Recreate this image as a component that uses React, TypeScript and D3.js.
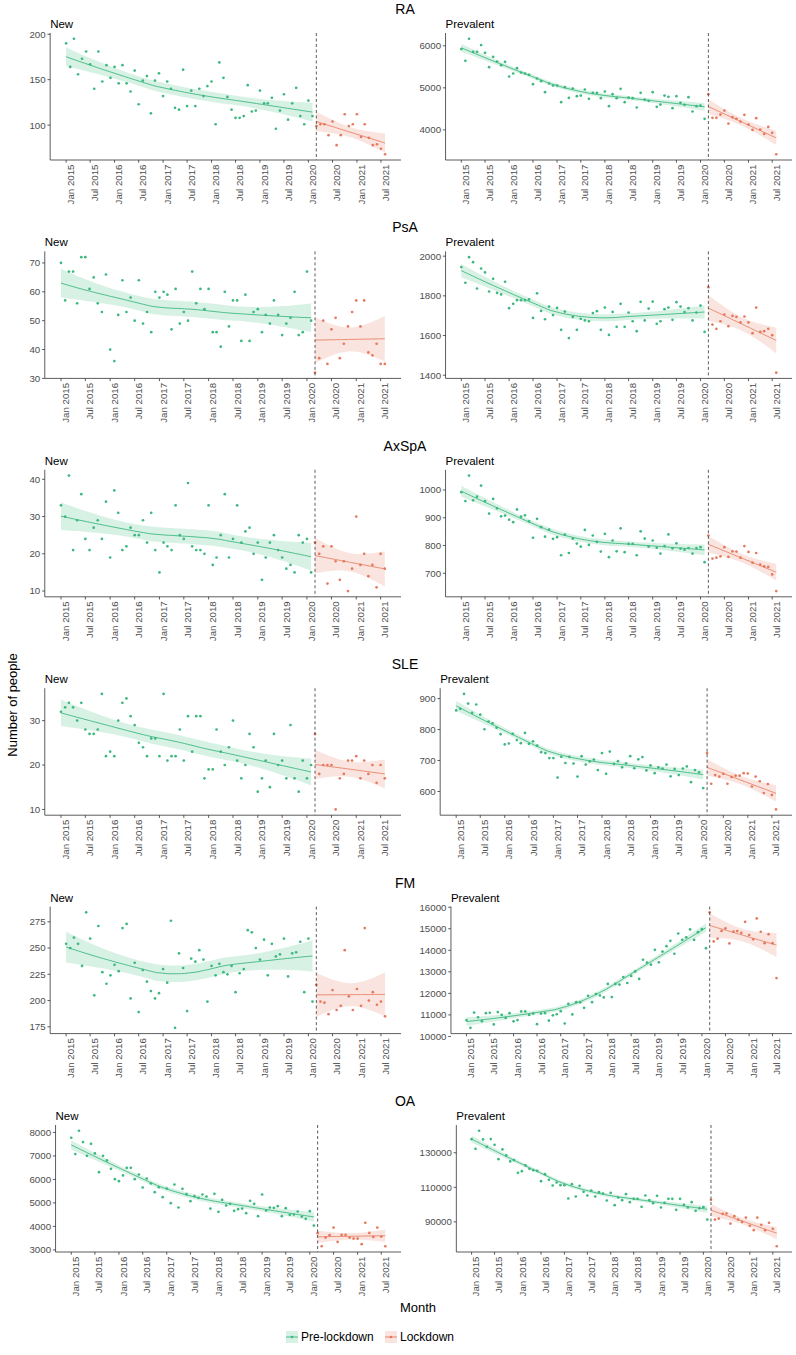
import React from 'react';
import * as d3 from 'd3';

const W = 796;
const H = 1355;
const GREEN = '#3DB97F';
const ORANGE = '#E67A5E';
const FONT = '"Liberation Sans", Arial, Helvetica, sans-serif';

// months: Jan 2015 .. Aug 2021, pre-lockdown up to Feb 2020
const MONTHS = d3.timeMonth.range(new Date(2015, 0, 1), new Date(2021, 8, 1));
const PRE_MONTHS = MONTHS.slice(0, 62);
const LOCK_MONTHS = MONTHS.slice(62);
const LOCKDOWN_START = LOCK_MONTHS[0];
const X_TICKS = d3.timeMonth.every(6)!.range(new Date(2015, 0, 1), new Date(2021, 7, 1));

const DISEASES = ['RA', 'PsA', 'AxSpA', 'SLE', 'FM', 'OA'];

const RA_NEW_PRE = [190,164,195,156,173,181,167,140,181,148,166,152,164,146,166,146,137,160,123,149,154,113,149,157,132,148,140,119,117,161,121,138,121,140,132,143,148,101,169,152,131,117,108,108,110,144,115,116,138,124,124,130,96,116,134,106,124,141,110,101,127,110];
const RA_NEW_LOCK = [99,101,101,89,104,78,89,112,99,101,112,87,101,86,78,79,74,68];
const RA_PREV_PRE = [5921,5643,6167,5857,5857,6016,5833,5492,5738,5627,5540,5619,5270,5341,5468,5365,5341,5310,5087,5222,5159,4897,5103,5056,5056,4659,5016,4762,4984,4801,4817,4960,4738,4881,4881,4754,4913,4563,4849,4754,4976,4659,4770,4754,4532,4881,4722,4690,4897,4548,4603,4817,4786,4516,4801,4643,4595,4778,4437,4563,4579,4262];
const RA_PREV_LOCK = [4849,4286,4286,4365,4460,4151,4302,4262,4198,4357,4127,4000,4278,4008,3905,4071,3929,3421];

const PSA_NEW_PRE = [70,57,67,67,56,72,72,61,65,56,53,66,40,36,52,64,53,58,50,64,49,53,46,60,58,60,59,47,61,49,53,50,67,56,61,54,61,46,46,41,60,48,57,57,43,59,43,53,54,46,52,49,57,52,45,49,51,60,45,46,67,50];
const PSA_NEW_LOCK = [32,37,50,35,47,51,37,42,48,53,57,48,57,39,38,42,35,35];
const PSA_PREV_PRE = [1945,1866,1995,1970,1837,1938,1918,1822,1886,1815,1807,1871,1738,1760,1778,1778,1778,1782,1689,1813,1724,1682,1746,1703,1739,1629,1721,1587,1694,1629,1684,1676,1672,1713,1723,1629,1741,1603,1719,1644,1760,1644,1716,1672,1622,1770,1676,1736,1771,1659,1672,1733,1741,1679,1768,1746,1718,1738,1676,1716,1751,1618];
const PSA_PREV_LOCK = [1844,1655,1634,1672,1706,1647,1699,1694,1666,1696,1666,1612,1741,1618,1622,1634,1602,1413];

const AXSPA_NEW_PRE = [33,30,41,21,29,36,24,21,27,29,24,34,19,37,31,21,22,27,25,25,29,23,31,21,15,23,22,21,33,25,24,39,22,21,21,20,33,17,19,25,36,19,24,33,23,26,27,20,23,13,19,23,25,21,19,16,17,15,25,23,24,15];
const AXSPA_NEW_LOCK = [23,20,22,12,22,18,13,18,10,16,30,17,20,14,17,11,20,16];
const AXSPA_PREV_PRE = [992,960,1052,963,976,1016,960,915,968,934,905,908,893,884,930,904,909,887,828,896,866,832,857,824,830,765,839,773,825,807,796,856,802,836,813,778,842,758,818,779,862,776,806,806,765,851,825,796,818,792,771,798,840,790,808,789,785,791,771,791,794,740];
const AXSPA_PREV_LOCK = [836,753,756,761,794,759,779,778,756,798,777,738,773,731,725,723,696,636];

const SLE_NEW_PRE = [32,33,34,33,30,34,28,27,27,28,36,22,23,22,30,34,35,31,29,25,24,22,26,26,22,36,21,22,22,28,21,31,23,31,31,17,19,19,28,23,20,24,30,21,17,20,27,24,14,17,21,15,27,20,21,17,29,17,14,21,17,20];
const SLE_NEW_LOCK = [27,18,20,20,20,10,17,18,21,21,22,17,21,18,20,16,20,17];
const SLE_PREV_PRE = [862,867,915,884,854,881,848,801,826,820,806,785,752,755,786,766,756,789,754,762,748,727,724,708,708,645,712,692,712,690,648,714,687,697,703,669,724,657,729,689,698,678,691,714,675,704,711,668,684,659,678,674,687,649,673,653,674,681,630,669,662,611];
const SLE_PREV_LOCK = [724,625,653,648,657,625,647,651,651,659,658,616,648,633,595,624,589,542];

const FM_NEW_PRE = [254,250,260,254,233,284,259,205,271,227,216,224,234,228,269,273,202,236,189,229,218,209,202,207,230,217,276,174,245,231,190,240,237,248,239,199,233,224,235,227,225,233,208,226,230,267,265,250,239,258,224,254,242,244,259,223,245,246,256,208,259,199];
const FM_NEW_LOCK = [215,199,198,187,210,191,195,248,204,191,211,195,269,200,208,196,199,185];
const FM_PREV_PRE = [10760,10400,11110,10890,10710,11080,11100,10560,11130,11000,10860,11080,10700,10760,11160,11160,11000,11060,10570,11060,11080,10730,10980,11030,11175,10600,11510,11020,11590,11590,11330,11890,11590,11970,11900,11810,12440,11830,12440,12410,12760,12480,12810,13020,12670,13560,13430,13330,14020,13440,13940,14190,14440,13840,14780,14490,14600,14970,14480,14840,14980,14100];
const FM_PREV_LOCK = [15760,14410,14540,14900,15020,14320,14870,14890,14810,15320,14710,14510,15480,14860,14330,14750,14330,12710];

const OA_NEW_PRE = [7773,7077,8071,7588,7006,7517,7105,6310,7006,6807,6452,6011,5926,6168,6494,6494,6011,6210,5656,6040,5827,5457,5670,5244,5614,4989,5784,4804,5600,5372,5074,5287,5216,5358,5273,4761,5386,4619,5131,4889,4960,4662,4733,4761,4563,5088,4960,4435,5358,4676,4804,4790,4861,4435,4776,4492,4506,4634,4420,4321,4648,4037];
const OA_NEW_LOCK = [3710,3156,3526,3625,3952,3341,3639,3639,3526,3483,3483,3242,4151,3724,3554,3952,3568,3156];
const OA_PREV_PRE = [137900,132300,142750,137730,133480,137920,134640,126330,131930,128450,124980,125750,118410,119370,122660,120720,119950,119560,113570,117630,114350,111060,112800,111260,111260,103530,111840,104690,110870,107390,105270,108170,104690,107200,106430,102370,106810,99660,104110,102560,106040,101400,103330,103330,98690,105270,102560,100820,105070,98310,101020,103330,103330,96960,103330,99850,98310,101400,96380,97920,98500,91350];
const OA_PREV_LOCK = [102750,91350,91930,94640,94830,89030,93280,91350,89990,92510,87680,85170,92510,88260,85170,89420,85940,75890];

const RA_NEW_TICKS = [100, 150, 200];
const RA_PREV_TICKS = [4000, 5000, 6000];
const PSA_NEW_TICKS = [30, 40, 50, 60, 70];
const PSA_PREV_TICKS = [1400, 1600, 1800, 2000];
const AXSPA_NEW_TICKS = [10, 20, 30, 40];
const AXSPA_PREV_TICKS = [700, 800, 900, 1000];
const SLE_NEW_TICKS = [10, 20, 30];
const SLE_PREV_TICKS = [600, 700, 800, 900];
const FM_NEW_TICKS = [175, 200, 225, 250, 275];
const FM_PREV_TICKS = [10000, 11000, 12000, 13000, 14000, 15000, 16000];
const OA_NEW_TICKS = [3000, 4000, 5000, 6000, 7000, 8000];
const OA_PREV_TICKS = [90000, 110000, 130000];

interface PanelDef {
  row: number;
  col: number;
  sub: string;
  pre: number[];
  lock: number[];
  ticks: number[];
}

const PANELS: PanelDef[] = [
  { row: 0, col: 0, sub: 'New', pre: RA_NEW_PRE, lock: RA_NEW_LOCK, ticks: RA_NEW_TICKS },
  { row: 0, col: 1, sub: 'Prevalent', pre: RA_PREV_PRE, lock: RA_PREV_LOCK, ticks: RA_PREV_TICKS },
  { row: 1, col: 0, sub: 'New', pre: PSA_NEW_PRE, lock: PSA_NEW_LOCK, ticks: PSA_NEW_TICKS },
  { row: 1, col: 1, sub: 'Prevalent', pre: PSA_PREV_PRE, lock: PSA_PREV_LOCK, ticks: PSA_PREV_TICKS },
  { row: 2, col: 0, sub: 'New', pre: AXSPA_NEW_PRE, lock: AXSPA_NEW_LOCK, ticks: AXSPA_NEW_TICKS },
  { row: 2, col: 1, sub: 'Prevalent', pre: AXSPA_PREV_PRE, lock: AXSPA_PREV_LOCK, ticks: AXSPA_PREV_TICKS },
  { row: 3, col: 0, sub: 'New', pre: SLE_NEW_PRE, lock: SLE_NEW_LOCK, ticks: SLE_NEW_TICKS },
  { row: 3, col: 1, sub: 'Prevalent', pre: SLE_PREV_PRE, lock: SLE_PREV_LOCK, ticks: SLE_PREV_TICKS },
  { row: 4, col: 0, sub: 'New', pre: FM_NEW_PRE, lock: FM_NEW_LOCK, ticks: FM_NEW_TICKS },
  { row: 4, col: 1, sub: 'Prevalent', pre: FM_PREV_PRE, lock: FM_PREV_LOCK, ticks: FM_PREV_TICKS },
  { row: 5, col: 0, sub: 'New', pre: OA_NEW_PRE, lock: OA_NEW_LOCK, ticks: OA_NEW_TICKS },
  { row: 5, col: 1, sub: 'Prevalent', pre: OA_PREV_PRE, lock: OA_PREV_LOCK, ticks: OA_PREV_TICKS },
];

// layout
const COLS = [
  { left: 29, right: 401 },
  { left: 419, right: 792 },
];
const ROW_BOTTOM0 = 160;
const ROW_PITCH = 218.4;
const PANEL_H = 127;
const TICK_FS = 9.7;
const DIGIT_W = 5.39;

// ---- smoothers with 95% confidence band ----
const MS_MONTH = 86400000 * 30.4375;

function solveN(m: number[][], b: number[]): number[] {
  const n = b.length;
  const a = m.map((r, i) => [...r, b[i]]);
  for (let c = 0; c < n; c++) {
    let p = c;
    for (let r = c + 1; r < n; r++) if (Math.abs(a[r][c]) > Math.abs(a[p][c])) p = r;
    [a[c], a[p]] = [a[p], a[c]];
    for (let r = 0; r < n; r++) {
      if (r === c) continue;
      const f = a[r][c] / a[c][c];
      for (let k = c; k <= n; k++) a[r][k] -= f * a[c][k];
    }
  }
  return a.map((r, i) => r[n] / r[i]);
}

function tQuantile(df: number): number {
  const z = 1.959964;
  return (
    z +
    (z ** 3 + z) / 4 / df +
    (5 * z ** 5 + 16 * z ** 3 + 3 * z) / 96 / df ** 2 +
    (3 * z ** 7 + 19 * z ** 5 + 17 * z ** 3 - 15 * z) / 384 / df ** 3
  );
}

interface Fit {
  date: Date;
  y: number;
  lo: number;
  hi: number;
}

// operator row l(x0): fitted value at x0 = sum l_i * y_i
// span = null means an unweighted global polynomial fit
function smoothRow(xs: number[], x0: number, degree: number, span: number | null): number[] {
  const n = xs.length;
  let w = xs.map(() => 1);
  if (span !== null) {
    const q = Math.min(n, Math.max(degree + 2, Math.floor(n * span)));
    const d = xs.map((x) => Math.abs(x - x0));
    const h = d.slice().sort((a, b) => a - b)[q - 1] * Math.max(1, span) * 1.0001 + 1e-9;
    w = d.map((v) => {
      const u = v / h;
      return u < 1 ? Math.pow(1 - u * u * u, 3) : 0;
    });
  }
  const p = degree + 1;
  const s = d3.range(2 * p - 1).map((k) => d3.sum(xs, (x, i) => w[i] * (x - x0) ** k));
  const M = d3.range(p).map((i) => d3.range(p).map((j) => s[i + j]));
  const a = solveN(M, d3.range(p).map((i) => (i === 0 ? 1 : 0)));
  return xs.map((x, i) => w[i] * d3.sum(a, (c, k) => c * (x - x0) ** k));
}

function smooth(dates: Date[], ys: number[], degree: number, span: number | null): Fit[] {
  const xs = dates.map((d) => d.getTime() / MS_MONTH / 12);
  const n = xs.length;
  const L = xs.map((x0) => smoothRow(xs, x0, degree, span));
  const fitted = L.map((l) => d3.sum(l, (v, i) => v * ys[i]));
  const rss = d3.sum(ys, (y, i) => (y - fitted[i]) ** 2);
  const IL = L.map((row, j) => row.map((v, i) => (i === j ? 1 : 0) - v));
  let one = 0;
  IL.forEach((r) => r.forEach((v) => (one += v * v)));
  let two = 0;
  for (let i = 0; i < n; i++) {
    for (let k = 0; k < n; k++) {
      let b = 0;
      for (let j = 0; j < n; j++) b += IL[j][i] * IL[j][k];
      two += b * b;
    }
  }
  const sigma = Math.sqrt(rss / one);
  const tq = tQuantile((one * one) / two);
  const [x0, x1] = [xs[0], xs[n - 1]];
  return d3.range(80).map((k) => {
    const t = x0 + ((x1 - x0) * k) / 79;
    const l = smoothRow(xs, t, degree, span);
    const yv = d3.sum(l, (v, i) => v * ys[i]);
    const se = sigma * Math.sqrt(d3.sum(l, (v) => v * v));
    return { date: new Date(t * 12 * MS_MONTH), y: yv, lo: yv - tq * se, hi: yv + tq * se };
  });
}

const fmtMonth = d3.timeFormat('%b %Y');

function Panel({ p }: { p: PanelDef }) {
  const col = COLS[p.col];
  const bottom = ROW_BOTTOM0 + p.row * ROW_PITCH;
  const top = bottom - PANEL_H;
  const chars = d3.max(p.ticks, (t) => String(t).length) || 3;
  const axisX = col.left + chars * DIGIT_W + 5;

  const preFit = smooth(PRE_MONTHS, p.pre, 1, 0.75);
  const lockFit = smooth(LOCK_MONTHS, p.lock, 1, null);
  const allY = [
    ...p.pre,
    ...p.lock,
    ...preFit.flatMap((d) => [d.lo, d.hi]),
    ...lockFit.flatMap((d) => [d.lo, d.hi]),
  ];
  const [ymin, ymax] = d3.extent(allY) as [number, number];
  const ypad = (ymax - ymin) * 0.05;
  const y = d3.scaleLinear().domain([ymin - ypad, ymax + ypad]).range([bottom, top]);

  const t0 = MONTHS[0].getTime();
  const t1 = MONTHS[MONTHS.length - 1].getTime();
  const xpad = (t1 - t0) * 0.05;
  const x = d3
    .scaleTime()
    .domain([new Date(t0 - xpad), new Date(t1 + xpad)])
    .range([axisX, col.right]);

  const area = d3
    .area<Fit>()
    .x((d) => x(d.date))
    .y0((d) => y(d.lo))
    .y1((d) => y(d.hi));
  const line = d3
    .line<Fit>()
    .x((d) => x(d.date))
    .y((d) => y(d.y));

  return (
    <g>
      <text x={axisX} y={top - 5} fontSize={11.5} fill="#000">
        {p.sub}
      </text>
      {p.pre.map((v, i) => (
        <circle key={'p' + i} cx={x(PRE_MONTHS[i])} cy={y(v)} r={1.35} fill={GREEN} />
      ))}
      {p.lock.map((v, i) => (
        <circle key={'l' + i} cx={x(LOCK_MONTHS[i])} cy={y(v)} r={1.35} fill={ORANGE} />
      ))}
      <path d={area(preFit) || ''} fill={GREEN} fillOpacity={0.2} />
      <path d={area(lockFit) || ''} fill={ORANGE} fillOpacity={0.2} />
      <path d={line(preFit) || ''} fill="none" stroke={GREEN} strokeWidth={0.9} />
      <path d={line(lockFit) || ''} fill="none" stroke={ORANGE} strokeWidth={0.9} />
      <line
        x1={x(LOCKDOWN_START)}
        x2={x(LOCKDOWN_START)}
        y1={top}
        y2={bottom}
        stroke="#333"
        strokeWidth={0.8}
        strokeDasharray="3,2.5"
      />
      {/* y axis */}
      <line x1={axisX} x2={axisX} y1={top} y2={bottom} stroke="#333" strokeWidth={0.8} />
      {p.ticks.map((t) => (
        <g key={'y' + t}>
          <line x1={axisX - 2.7} x2={axisX} y1={y(t)} y2={y(t)} stroke="#333" strokeWidth={0.8} />
          <text
            x={axisX - 4.5}
            y={y(t)}
            dy="0.35em"
            textAnchor="end"
            fontSize={TICK_FS}
            fill="#4d4d4d"
          >
            {t}
          </text>
        </g>
      ))}
      {/* x axis */}
      <line x1={axisX} x2={col.right} y1={bottom} y2={bottom} stroke="#333" strokeWidth={0.8} />
      {X_TICKS.map((d) => (
        <g key={'x' + d.getTime()}>
          <line x1={x(d)} x2={x(d)} y1={bottom} y2={bottom + 2.7} stroke="#333" strokeWidth={0.8} />
          <text
            transform={`translate(${x(d)},${bottom + 4.5}) rotate(-90)`}
            dy="0.78em"
            textAnchor="end"
            fontSize={TICK_FS}
            fill="#4d4d4d"
          >
            {fmtMonth(d)}
          </text>
        </g>
      ))}
    </g>
  );
}

function LegendKey({ x, y, color, label }: { x: number; y: number; color: string; label: string }) {
  return (
    <g>
      <rect x={x} y={y - 6} width={12} height={12} fill={color} fillOpacity={0.2} />
      <line x1={x} x2={x + 12} y1={y} y2={y} stroke={color} strokeWidth={0.9} />
      <circle cx={x + 6} cy={y} r={1.35} fill={color} />
      <text x={x + 15} y={y} dy="0.35em" fontSize={12} fill="#000">
        {label}
      </text>
    </g>
  );
}

export default function App() {
  return (
    <svg
      width={W}
      height={H}
      viewBox={`0 0 ${W} ${H}`}
      style={{ position: 'absolute', left: 0, top: 0, background: '#fff' }}
      fontFamily={FONT}
    >
      <rect width={W} height={H} fill="#fff" />
      {DISEASES.map((name, r) => (
        <text
          key={name}
          x={405}
          y={ROW_BOTTOM0 + r * ROW_PITCH - PANEL_H - 19}
          textAnchor="middle"
          fontSize={14}
          fill="#000"
        >
          {name}
        </text>
      ))}
      {PANELS.map((p, i) => (
        <Panel key={i} p={p} />
      ))}
      <text
        transform="translate(12,705) rotate(-90)"
        dy="0.35em"
        textAnchor="middle"
        fontSize={13}
        fill="#000"
      >
        Number of people
      </text>
      <text x={418} y={1307} dy="0.35em" textAnchor="middle" fontSize={13} fill="#000">
        Month
      </text>
      <LegendKey x={286} y={1337} color={GREEN} label="Pre-lockdown" />
      <LegendKey x={385} y={1337} color={ORANGE} label="Lockdown" />
    </svg>
  );
}
